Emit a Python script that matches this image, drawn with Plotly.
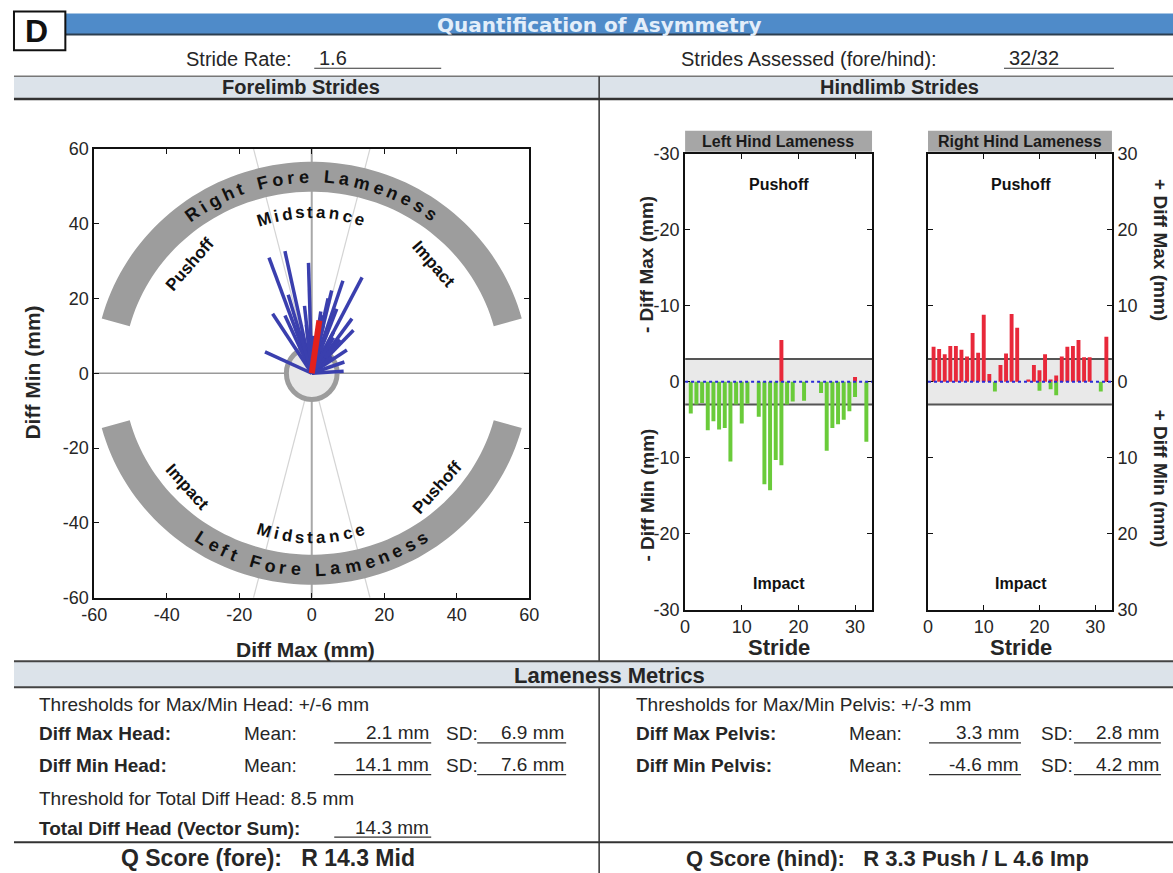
import numpy as np
import plotly.graph_objects as go

W, H = 1173, 873
FONT = "Liberation Sans"

# ---------------- data ----------------
title_text = "Quantification of Asymmetry"
stride_rate = "1.6"
strides_assessed = "32/32"

# forelimb stride vectors (Diff Max, Diff Min) in mm
fore_diff_max = [-11.8, -7.4, -0.9, 13.9, 8.6, 5.5, -10.8, -7.4, 11.1, 11.5, -12.9, 9.7, 8.8, 6.9, 3.2, -3.2,
                 4.5, 7.8, -2.0, 4.0, 5.5, -2.0, 0.5, 3.0, -1.5, 6.0, 3.5, 2.0, 6.0, 9.0, -6.5, 2.5]
fore_diff_min = [30.9, 32.6, 29.5, 25.6, 24.7, 22.1, 15.9, 15.4, 14.6, 11.5, 5.7, 6.2, 0.5, 17.2, 12.8, 11.0,
                 20.0, 9.0, 8.0, 7.0, 4.5, 18.0, 10.0, 15.5, 13.0, 11.0, 4.0, 6.0, 9.5, 3.0, 21.0, 16.5]
fore_mean = [2.1, 14.1]
fore_ticks = [-60, -40, -20, 0, 20, 40, 60]
fore_ticktext = ["-60", "-40", "-20", "0", "20", "40", "60"]

# hindlimb strides (pelvis) in mm
strides = list(range(1, 33))
hind_diff_max = [4.6, 4.3, 3.6, 4.7, 4.7, 4.2, 3.3, 6.4, 3.8, 8.8, 1.0, 0.0, 2.2, 3.7, 8.9, 7.1,
                 -5.5, 0.3, 2.2, 1.5, 3.6, 0.3, 0.8, 3.3, 4.6, 4.7, 5.5, 3.2, 3.2, -0.6, 0.0, 5.9]
hind_diff_min = [-4.2, -3.0, -2.8, -6.4, -5.2, -6.3, -6.1, -10.5, -3.0, -5.5, -2.9, 1.3, -4.6, -13.5, -14.3, -10.3,
                 -11.0, -3.0, -2.6, 1.2, -2.5, 1.0, 1.8, -1.5, -9.1, -6.1, -5.6, -5.0, -3.9, -2.0, 1.3, -7.9]
hind_threshold = 3
hind_yticks = [-30, -20, -10, 0, 10, 20, 30]
left_yticktext = ["-30", "-20", "-10", "0", "-10", "-20", "-30"]
right_yticktext = ["30", "20", "10", "0", "10", "20", "30"]
hind_xticks = [0, 10, 20, 30]

# metrics
head_threshold = "+/-6 mm"
head_max_mean, head_max_sd = "2.1 mm", "6.9 mm"
head_min_mean, head_min_sd = "14.1 mm", "7.6 mm"
head_total_threshold = "8.5 mm"
head_total = "14.3 mm"
pelvis_threshold = "+/-3 mm"
pelvis_max_mean, pelvis_max_sd = "3.3 mm", "2.8 mm"
pelvis_min_mean, pelvis_min_sd = "-4.6 mm", "4.2 mm"
q_fore = "R 14.3 Mid"
q_hind = "R 3.3 Push / L 4.6 Imp"

# ---------------- helpers ----------------
def TX(x):
    return max(-13.9 + 1.0196 * x, 1.0)

def TY(y):
    return max(-6.5 + 1.0168 * y, 1.0)

def px(x):
    return TX(x) / W

def py(y):
    return 1 - TY(y) / H

shapes = []
annotations = []

def rect(x0, y0, x1, y1, fill, line_color=None, lw=0, layer="below"):
    shapes.append(dict(type="rect", xref="paper", yref="paper", x0=px(x0), x1=px(x1), y0=py(y1), y1=py(y0),
                       fillcolor=fill, line=dict(color=line_color or fill, width=lw), layer=layer))

def hline(x0, x1, y, color="#333", lw=1.5, layer="above"):
    shapes.append(dict(type="line", xref="paper", yref="paper", x0=px(x0), x1=px(x1), y0=py(y), y1=py(y),
                       line=dict(color=color, width=lw), layer=layer))

def vline(x, y0, y1, color="#333", lw=1.5):
    shapes.append(dict(type="line", xref="paper", yref="paper", x0=px(x), x1=px(x), y0=py(y0), y1=py(y1),
                       line=dict(color=color, width=lw)))

def txt(x, y, s, size=16, bold=False, color="#262626", xanchor="left", yanchor="middle", angle=0, family=FONT):
    annotations.append(dict(x=px(x), y=py(y), xref="paper", yref="paper", text=("<b>%s</b>" % s) if bold else s,
                            showarrow=False, xanchor=xanchor, yanchor=yanchor, textangle=angle,
                            font=dict(size=size, color=color, family=family)))

def dtxt(x, y, s, xref, yref, size=14, angle=0, color="#111"):
    annotations.append(dict(x=x, y=y, xref=xref, yref=yref, text="<b>%s</b>" % s, showarrow=False,
                            xanchor="center", yanchor="middle", textangle=angle,
                            font=dict(size=size, color=color, family=FONT)))

CW = {"R": .72, "i": .28, "g": .61, "h": .61, "t": .33, " ": .35, "F": .61, "o": .61, "r": .39, "e": .56,
      "L": .61, "a": .56, "m": .89, "n": .61, "s": .56, "M": .83, "d": .61, "c": .56, "f": .33}

def arc_text(text, rx, ry, t0, t1, lower, size, track=0.12):
    ws = [CW.get(c, .6) + track for c in text]
    cum = np.cumsum(ws) - np.array(ws) / 2
    f = (cum - cum[0]) / (cum[-1] - cum[0])
    for c, fr in zip(text, f):
        if c == " ":
            continue
        th = t0 + fr * (t1 - t0)
        r = np.radians(th)
        ang = (270 - th) if lower else (90 - th)
        dtxt(rx * np.cos(r), ry * np.sin(r), c, "x", "y", size=size, angle=ang)

def band_path(rxo, ryo, rxi, ryi, t0, t1):
    t = np.radians(np.linspace(t0, t1, 80))
    pts = [(rxo * np.cos(a), ryo * np.sin(a)) for a in t] + [(rxi * np.cos(a), ryi * np.sin(a)) for a in t[::-1]]
    return "M " + " L ".join("%.3f,%.3f" % p for p in pts) + " Z"

# ---------------- page frame ----------------
rect(8, 10, 1180, 31, "#4f8bc9")
hline(8, 1180, 31, "#2c3e50", 2)
txt(600, 21, title_text, size=20, bold=True, color="#e3eefa", xanchor="center", family="DejaVu Sans")
rect(8, 8, 66, 47, "white", "#111", 2, layer="above")
txt(37, 28, "D", size=32, bold=True, color="#111", xanchor="center")

txt(185, 56, "Stride Rate:", size=20, xanchor="left")
txt(318, 55, stride_rate, size=20, xanchor="left")
hline(315, 442, 65, "#333", 1.2)
txt(680, 56, "Strides Assessed (fore/hind):", size=20, xanchor="left")
txt(1008, 55, strides_assessed, size=20, xanchor="left")
hline(1005, 1115, 65, "#333", 1.2)

rect(8, 73, 1180, 95, "#dce3ea")
hline(8, 1180, 73, "#777", 1.5)
hline(8, 1180, 96, "#333", 2.5)
txt(302, 84, "Forelimb Strides", size=20, bold=True, xanchor="center")
txt(900, 84, "Hindlimb Strides", size=20, bold=True, xanchor="center")
vline(600, 73, 662)
vline(600, 688, 880)

rect(8, 662, 1180, 688, "#dce3ea")
hline(8, 1180, 662, "#444", 2)
hline(8, 1180, 688, "#444", 2)
txt(610, 676, "Lameness Metrics", size=22, bold=True, xanchor="center")
hline(8, 1180, 844, "#333", 2)

# ---------------- metrics text ----------------
MS = 19

def metric_row(x, y, label, mean, sd, xm, xv0, xv1, xs, xsd0, xsd1):
    txt(x, y, label, size=MS, bold=True)
    txt(xm, y, "Mean:", size=MS)
    txt(xv1, y - 1, mean, size=MS, xanchor="right")
    hline(xv0, xv1, y + 9, "#333", 1.2)
    txt(xs, y, "SD:", size=MS)
    txt(xsd1, y - 1, sd, size=MS, xanchor="right")
    hline(xsd0, xsd1, y + 9, "#333", 1.2)

txt(38, 705, "Thresholds for Max/Min Head: " + head_threshold, size=MS)
metric_row(38, 735, "Diff Max Head:", head_max_mean, head_max_sd, 243, 335, 432, 445, 478, 567)
metric_row(38, 767, "Diff Min Head:", head_min_mean, head_min_sd, 243, 335, 432, 445, 478, 567)
txt(38, 800, "Threshold for Total Diff Head: " + head_total_threshold, size=MS)
txt(38, 830, "Total Diff Head (Vector Sum):", size=MS, bold=True)
txt(432, 829, head_total, size=MS, xanchor="right")
hline(335, 432, 839, "#333", 1.2)

txt(635, 705, "Thresholds for Max/Min Pelvis: " + pelvis_threshold, size=MS)
metric_row(635, 735, "Diff Max Pelvis:", pelvis_max_mean, pelvis_max_sd, 848, 930, 1022, 1040, 1075, 1162)
metric_row(635, 767, "Diff Min Pelvis:", pelvis_min_mean, pelvis_min_sd, 848, 930, 1022, 1040, 1075, 1162)

txt(120, 860, "Q Score (fore):&nbsp;&nbsp; " + q_fore, size=23, bold=True)
txt(685, 860, "Q Score (hind):&nbsp;&nbsp; " + q_hind, size=22, bold=True)

# ---------------- forelimb plot ----------------
fig = go.Figure()

for th in (75, 105, -75, -105):
    r = np.radians(th)
    L = 60 / abs(np.sin(r))
    shapes.append(dict(type="line", xref="x", yref="y", x0=0, y0=0, x1=L * np.cos(r), y1=L * np.sin(r),
                       line=dict(color="#d4d4d4", width=1.2), layer="below"))
shapes.append(dict(type="line", xref="x", yref="y", x0=0, x1=0, y0=-60, y1=60,
                   line=dict(color="#a8a8a8", width=2), layer="below"))
shapes.append(dict(type="line", xref="x", yref="y", x0=-60, x1=60, y0=0, y1=0,
                   line=dict(color="#9a9a9a", width=1.5), layer="below"))
shapes.append(dict(type="circle", xref="x", yref="y", x0=-7.0, x1=7.0, y0=-7.0, y1=7.0,
                   fillcolor="#e8e8e8", line=dict(color="#9c9c9c", width=5), layer="below"))
shapes.append(dict(type="path", xref="x", yref="y", path=band_path(60, 56.5, 52, 48.5, 15, 165),
                   fillcolor="#9d9d9d", line=dict(width=0), layer="below"))
shapes.append(dict(type="path", xref="x", yref="y", path=band_path(60, 56.5, 52, 48.5, -165, -15),
                   fillcolor="#9d9d9d", line=dict(width=0), layer="below"))

arc_text("Right Fore Lameness", 56, 52.5, 126, 54, False, 18, track=0.18)
arc_text("Left Fore Lameness", 56, 52.5, 237, 303, True, 18, track=0.18)
arc_text("Midstance", 45, 43, 107, 73, False, 17, track=0.06)
arc_text("Midstance", 45, 44, 253, 287, True, 17, track=0.06)
dtxt(-33.7, 29.1, "Pushoff", "x", "y", size=17, angle=-49)
dtxt(33.7, 29.1, "Impact", "x", "y", size=17, angle=49)
dtxt(-34.2, -30.4, "Impact", "x", "y", size=17, angle=48)
dtxt(34.6, -30.4, "Pushoff", "x", "y", size=17, angle=-48)

vx, vy = [], []
for a, b in zip(fore_diff_max, fore_diff_min):
    vx += [0, a, None]
    vy += [0, b, None]
fig.add_trace(go.Scatter(x=vx, y=vy, mode="lines", line=dict(color="#3a3fae", width=3.5),
                         xaxis="x", yaxis="y", hoverinfo="skip"))
fig.add_trace(go.Scatter(x=[0, fore_mean[0]], y=[0, fore_mean[1]], mode="lines",
                         line=dict(color="#e3201b", width=6), xaxis="x", yaxis="y"))

txt(306, 650, "Diff Max (mm)", size=21, bold=True, xanchor="center")
txt(33, 371, "Diff Min (mm)", size=21, bold=True, xanchor="center", angle=-90)

# ---------------- hindlimb plots ----------------
left_max = [-v if v < 0 else 0 for v in hind_diff_max]
left_min = [v if v < 0 else 0 for v in hind_diff_min]
right_max = [v if v > 0 else 0 for v in hind_diff_max]
right_min = [-v if v > 0 else 0 for v in hind_diff_min]

RED, GREEN = "#e8283a", "#6acb3a"
for xa, ya, up, dn in (("x2", "y2", left_max, left_min), ("x3", "y3", right_max, right_min)):
    fig.add_trace(go.Bar(x=strides, y=dn, width=0.7, marker=dict(color=GREEN, line=dict(width=0)),
                         xaxis=xa, yaxis=ya))
    fig.add_trace(go.Bar(x=strides, y=up, width=0.7, marker=dict(color=RED, line=dict(width=0)),
                         xaxis=xa, yaxis=ya))
    shapes.append(dict(type="rect", xref=xa, yref=ya, x0=0, x1=33, y0=-hind_threshold, y1=hind_threshold,
                       fillcolor="#e9e9e9", line=dict(width=0), layer="below"))
    for t in (-hind_threshold, hind_threshold):
        shapes.append(dict(type="line", xref=xa, yref=ya, x0=0, x1=33, y0=t, y1=t,
                           line=dict(color="#555", width=2), layer="below"))
    shapes.append(dict(type="line", xref=xa, yref=ya, x0=0, x1=33, y0=0, y1=0,
                       line=dict(color="#2b2bd6", width=2, dash="dot"), layer="above"))
    dtxt(16.6, 26, "Pushoff", xa, ya, size=16)
    dtxt(16.6, -26.5, "Impact", xa, ya, size=16)

rect(686, 128, 873, 149, "#a6a6a6")
rect(929, 128, 1113, 149, "#a6a6a6")
txt(779, 139, "Left Hind Lameness", size=16, bold=True, xanchor="center", color="#1a1a1a")
txt(1021, 139, "Right Hind Lameness", size=16, bold=True, xanchor="center", color="#1a1a1a")

txt(648, 263, "- Diff Max (mm)", size=19, bold=True, xanchor="center", angle=-90)
txt(648, 495, "- Diff Min (mm)", size=19, bold=True, xanchor="center", angle=-90)
txt(1162, 248, "+ Diff Max (mm)", size=19, bold=True, xanchor="center", angle=90)
txt(1162, 478, "+ Diff Min (mm)", size=19, bold=True, xanchor="center", angle=90)
txt(780, 648, "Stride", size=22, bold=True, xanchor="center")
txt(1022, 648, "Stride", size=22, bold=True, xanchor="center")

axis_common = dict(showline=True, linecolor="#111", linewidth=2, mirror="ticks", ticks="inside", ticklen=5,
                   tickcolor="#111", showgrid=False, zeroline=False,
                   tickfont=dict(size=18, color="#262626", family=FONT), fixedrange=True)

fig.update_layout(
    width=W, height=H, margin=dict(l=0, r=0, t=0, b=0),
    paper_bgcolor="white", plot_bgcolor="white", showlegend=False, barmode="overlay",
    font=dict(family=FONT),
    xaxis=dict(domain=[px(95), px(530)], range=[-60, 60], tickvals=fore_ticks, ticktext=fore_ticktext,
               anchor="y", **axis_common),
    yaxis=dict(domain=[py(598), py(146)], range=[-60, 60], tickvals=fore_ticks, ticktext=fore_ticktext,
               anchor="x", **axis_common),
    xaxis2=dict(domain=[px(686), px(873)], range=[0, 33], tickvals=hind_xticks, anchor="y2", **axis_common),
    yaxis2=dict(domain=[py(610), py(151)], range=[-30, 30], tickvals=hind_yticks, ticktext=left_yticktext,
                anchor="x2", **axis_common),
    xaxis3=dict(domain=[px(929), px(1113)], range=[0, 33], tickvals=hind_xticks, anchor="y3", **axis_common),
    yaxis3=dict(domain=[py(610), py(151)], range=[-30, 30], tickvals=hind_yticks, ticktext=right_yticktext,
                anchor="x3", side="right", **axis_common),
    shapes=shapes, annotations=annotations,
)

fig.write_html("out.html", config={"displayModeBar": False},
               post_script="document.body.style.margin='0px';document.body.style.overflow='hidden';")
